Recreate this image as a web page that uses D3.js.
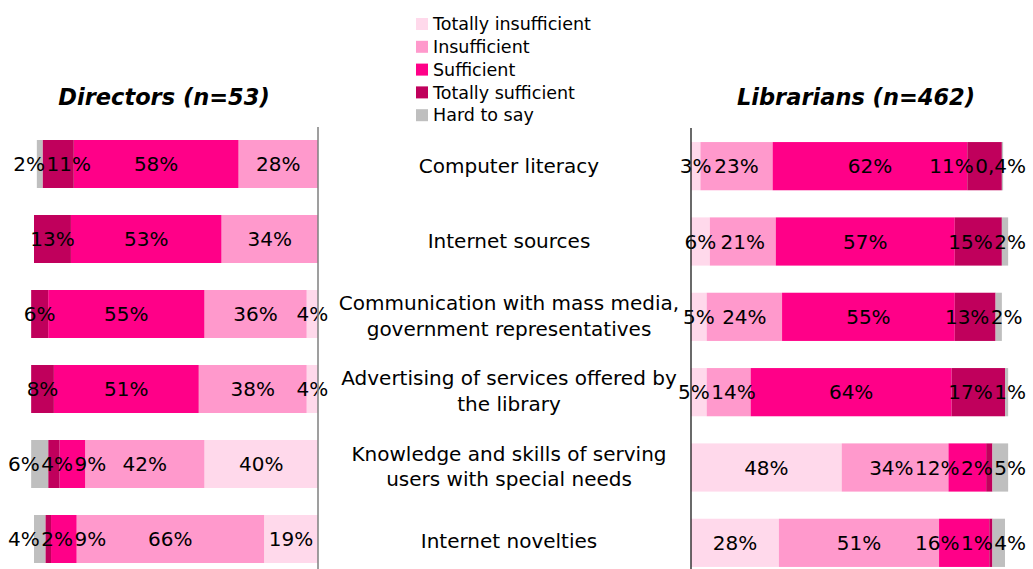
<!DOCTYPE html>
<html>
<head>
<meta charset="utf-8">
<script src="https://cdn.jsdelivr.net/npm/d3@7"></script>
<style>
  html, body { margin: 0; padding: 0; background: #fff; }
  svg { display: block; font-family: "DejaVu Sans", Verdana, sans-serif; }
</style>
</head>
<body>
<svg id="chart" width="1033" height="569"></svg>
<script>
// Categories (assessed competences), one row per category
const categories = [
  "Computer literacy",
  "Internet sources",
  "Communication with mass media,\ngovernment representatives",
  "Advertising of services offered by\nthe library",
  "Knowledge and skills of serving\nusers with special needs",
  "Internet novelties"
];

const seriesNames = ["Totally insufficient", "Insufficient", "Sufficient", "Totally sufficient", "Hard to say"];
const seriesColors = ["#FFD9EB", "#FF99CC", "#FF0088", "#C0005C", "#BFBFBF"];

// Directors (n=53), percent
const dirTotallyInsufficient = [0, 0, 4, 4, 40, 19];
const dirInsufficient        = [28, 34, 36, 38, 42, 66];
const dirSufficient          = [58, 53, 55, 51, 9, 9];
const dirTotallySufficient   = [11, 13, 6, 8, 4, 2];
const dirHardToSay           = [2, 0, 0, 0, 6, 4];

// Librarians (n=462), percent
const libTotallyInsufficient = [3, 6, 5, 5, 48, 28];
const libInsufficient        = [23, 21, 24, 14, 34, 51];
const libSufficient          = [62, 57, 55, 64, 12, 16];
const libTotallySufficient   = [11, 15, 13, 17, 2, 1];
const libHardToSay           = [0.4, 2, 2, 1, 5, 4];

const panelTitles = ["Directors (n=53)", "Librarians (n=462)"];

// ---------------------------------------------------------------
const svg = d3.select("#chart");
const color = d3.scaleOrdinal().domain(seriesNames).range(seriesColors);

function rows(series) {
  return categories.map((c, i) => {
    const r = { category: c };
    seriesNames.forEach((s, k) => { r[s] = series[k][i]; });
    return r;
  });
}

const dirRows = rows([dirTotallyInsufficient, dirInsufficient, dirSufficient, dirTotallySufficient, dirHardToSay]);
const libRows = rows([libTotallyInsufficient, libInsufficient, libSufficient, libTotallySufficient, libHardToSay]);

const stack = d3.stack().keys(seriesNames);

// Left panel grows leftwards from its axis, right panel grows rightwards
const xLeft = d3.scaleLinear().domain([0, 100]).range([318, 34]);
const xRight = d3.scaleLinear().domain([0, 100]).range([691, 1005]);

const yLeft = d3.scaleBand().domain(categories).range([126.5, 126.5 + 450]).paddingInner(0.36).paddingOuter(0.18);
const yRight = d3.scaleBand().domain(categories).range([128.5, 128.5 + 452]).paddingInner(0.36).paddingOuter(0.18);
const yCat = d3.scaleBand().domain(categories).range([128, 128 + 451]).paddingInner(0.36).paddingOuter(0.18);

const fmt = v => (Number.isInteger(v) ? String(v) : String(v).replace(".", ",")) + "%";

function drawPanel(data, x, y, bounds, leftward) {
  const g = svg.append("g");
  const layers = stack(data);

  g.selectAll("g.layer")
    .data(layers)
    .join("g")
    .attr("class", "layer")
    .attr("fill", d => color(d.key))
    .selectAll("rect")
    .data(d => d)
    .join("rect")
    .attr("x", d => Math.min(x(d[0]), x(d[1])))
    .attr("width", d => Math.abs(x(d[1]) - x(d[0])))
    .attr("y", d => y(d.data.category))
    .attr("height", y.bandwidth());

  // value labels, nudged apart where neighbours would overlap
  categories.forEach((cat, i) => {
    const items = [];
    layers.forEach(layer => {
      const d = layer[i];
      const v = d.data[layer.key];
      if (!v) return;
      items.push({ v, c: (x(d[0]) + x(d[1])) / 2 });
    });
    const texts = g.selectAll(null)
      .data(items)
      .join("text")
      .attr("y", y(cat) + y.bandwidth() / 2)
      .attr("dy", "0.35em")
      .attr("text-anchor", "middle")
      .attr("font-size", 20)
      .attr("fill", "#000")
      .text(d => fmt(d.v));
    texts.each(function (d) { d.w = this.getComputedTextLength(); d.x = d.c; });
    items.sort((a, b) => a.c - b.c);
    const pad = 1.5;
    for (let it = 0; it < 200; it++) {
      for (let k = 1; k < items.length; k++) {
        const a = items[k - 1], b = items[k];
        const need = (a.w + b.w) / 2 + pad;
        const dist = b.x - a.x;
        if (dist < need) {
          const s = (need - dist) / 2;
          a.x -= s; b.x += s;
        }
      }
      const first = items[0], last = items[items.length - 1];
      first.x = Math.max(first.x, bounds[0] + first.w / 2);
      last.x = Math.min(last.x, bounds[1] - last.w / 2);
    }
    texts.attr("x", d => d.x);
  });
  return g;
}

drawPanel(dirRows, xLeft, yLeft, [8, 332], true);
drawPanel(libRows, xRight, yRight, [676, 1026], false);

// panel axes
svg.append("line")
  .attr("x1", xLeft(0)).attr("x2", xLeft(0))
  .attr("y1", 127).attr("y2", 569)
  .attr("stroke", "#7F7F7F").attr("stroke-width", 1.5);
svg.append("line")
  .attr("x1", xRight(0)).attr("x2", xRight(0))
  .attr("y1", 128).attr("y2", 569)
  .attr("stroke", "#1a1a1a").attr("stroke-width", 1.3);

// category labels in the middle column
const catX = 509;
const lineH = 25.5;
categories.forEach(cat => {
  const lines = cat.split("\n");
  const yc = yCat(cat) + yCat.bandwidth() / 2;
  const t = svg.append("text")
    .attr("text-anchor", "middle")
    .attr("font-size", 20)
    .attr("fill", "#000");
  lines.forEach((ln, j) => {
    t.append("tspan")
      .attr("x", catX)
      .attr("y", yc - (lines.length - 1) * lineH / 2 + j * lineH)
      .attr("dy", "0.35em")
      .text(ln);
  });
});

// panel titles
svg.selectAll("text.title")
  .data(panelTitles)
  .join("text")
  .attr("class", "title")
  .attr("x", (d, i) => i === 0 ? (xLeft(0) + xLeft(100)) / 2 - 12 : (xRight(0) + xRight(100)) / 2 + 8)
  .attr("y", 105)
  .attr("text-anchor", "middle")
  .attr("font-size", 22.5)
  .attr("font-weight", "bold")
  .attr("font-style", "italic")
  .attr("fill", "#000")
  .text(d => d);

// legend
const legend = svg.append("g").attr("transform", "translate(416,24)");
const li = legend.selectAll("g")
  .data(seriesNames)
  .join("g")
  .attr("transform", (d, i) => `translate(0,${i * 22.8})`);
li.append("rect")
  .attr("x", 0).attr("y", -6)
  .attr("width", 12).attr("height", 12)
  .attr("fill", d => color(d));
li.append("text")
  .attr("x", 17).attr("y", 0).attr("dy", "0.35em")
  .attr("font-size", 17.5)
  .attr("fill", "#000")
  .text(d => d);
</script>
</body>
</html>
